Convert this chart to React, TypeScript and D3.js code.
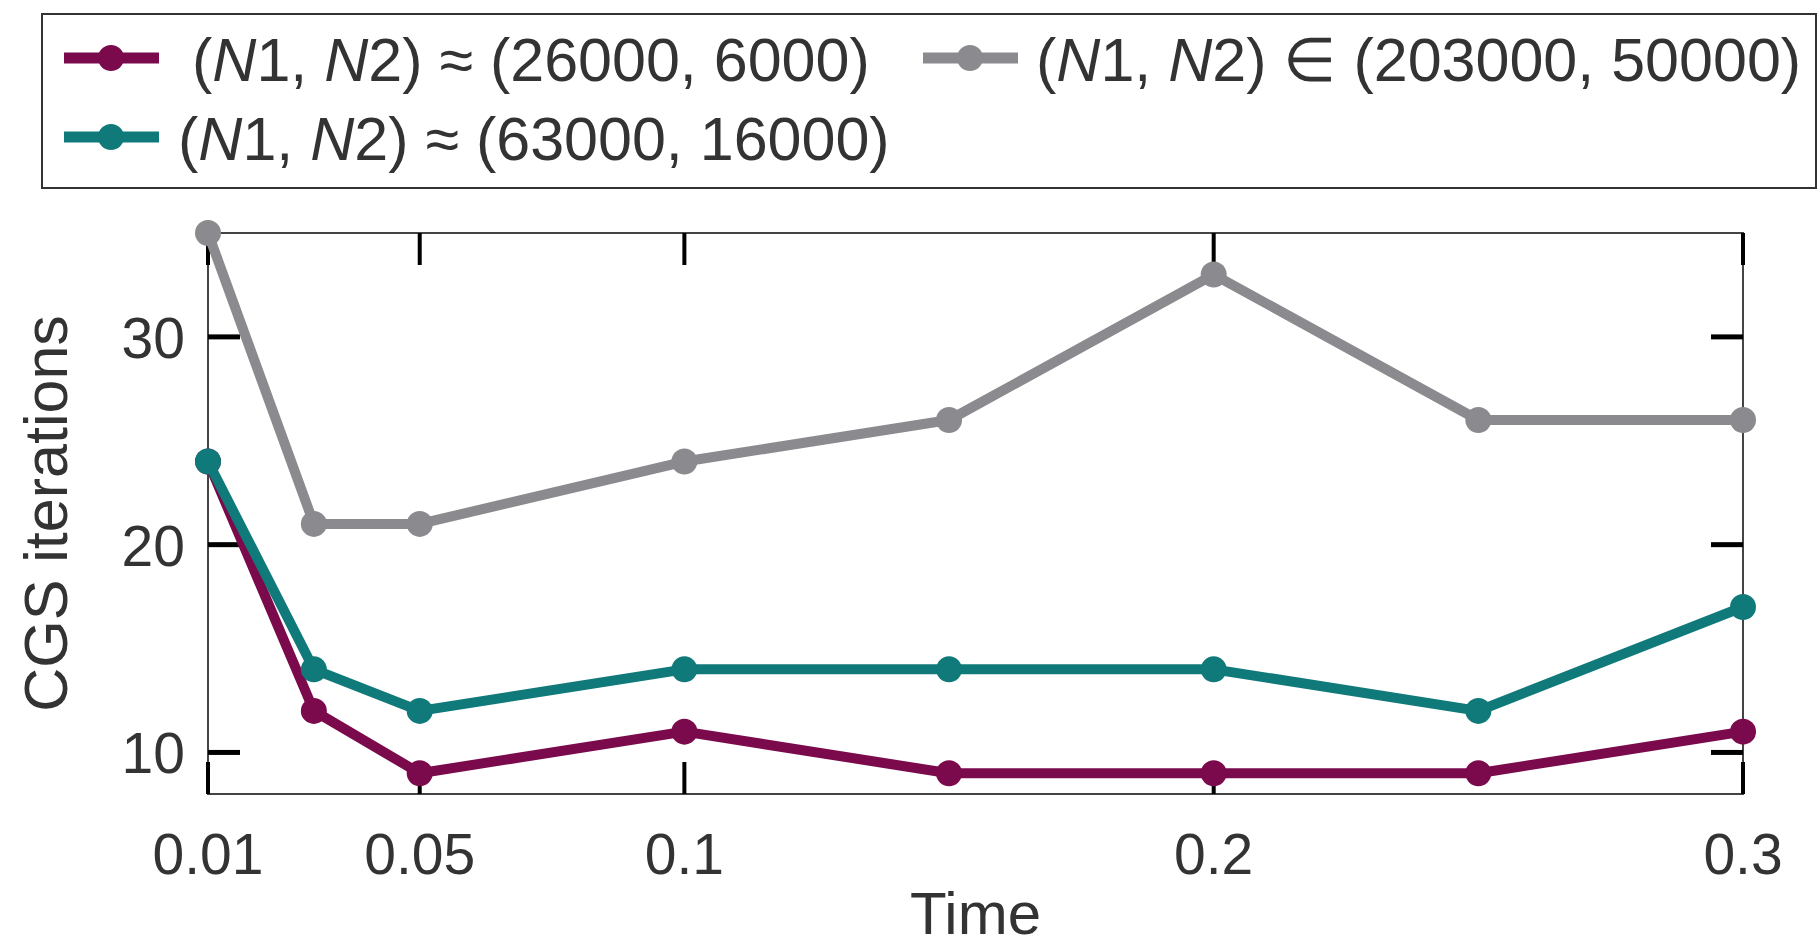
import React from 'react';
import * as d3 from 'd3';

// data
const times = [0.01, 0.03, 0.05, 0.1, 0.15, 0.2, 0.25, 0.3];
const itersSmall = [24, 12, 9, 11, 9, 9, 9, 11];
const itersMedium = [24, 14, 12, 14, 14, 14, 12, 17];
const itersLarge = [35, 21, 21, 24, 26, 33, 26, 26];
const xTicks = [0.01, 0.05, 0.1, 0.2, 0.3];
const yTicks = [10, 20, 30];

const MAROON = '#7b0a4c';
const TEAL = '#10797a';
const GRAY = '#8b8b8f';
const FONT = '"Liberation Sans", Arial, sans-serif';
const TEXT = '#333';

const W = 1820;
const H = 947;
const plot = { left: 208, right: 1743, top: 233, bottom: 794 };

const series = [
  { name: 'large', values: itersLarge, color: GRAY },
  { name: 'small', values: itersSmall, color: MAROON },
  { name: 'medium', values: itersMedium, color: TEAL },
];

// legend label: (N1, N2) op (a, b)
const LegendLabel = ({ x, y, op, a, b }: { x: number; y: number; op: string; a: string; b: string }) => (
  <text x={x} y={y} fontFamily={FONT} fontSize={61} fill={TEXT}>
    <tspan>(</tspan>
    <tspan fontStyle="italic">N</tspan>
    <tspan>1, </tspan>
    <tspan fontStyle="italic">N</tspan>
    <tspan>{`2) ${op} (${a}, ${b})`}</tspan>
  </text>
);

const LegendMark = ({ x, y, color }: { x: number; y: number; color: string }) => (
  <g>
    <line x1={x} x2={x + 95} y1={y} y2={y} stroke={color} strokeWidth={11} />
    <circle cx={x + 47} cy={y} r={13} fill={color} />
  </g>
);

export default function App() {
  const x = d3.scaleLinear().domain([0.01, 0.3]).range([plot.left, plot.right]);
  const y = d3.scaleLinear().domain([8, 35]).range([plot.bottom, plot.top]);

  const line = d3
    .line<number>()
    .x((_, i) => x(times[i]))
    .y((d) => y(d));

  const tickLen = 32;

  return (
    <svg width={W} height={H} style={{ position: 'absolute', left: 0, top: 0, background: '#fff' }}>
      {/* legend */}
      <rect x={42} y={14} width={1774} height={174} fill="#fff" stroke="#333" strokeWidth={2} />
      <LegendMark x={64} y={58} color={MAROON} />
      <LegendLabel x={192} y={81} op="≈" a="26000" b="6000" />
      <LegendMark x={923} y={58} color={GRAY} />
      <LegendLabel x={1036} y={81} op="∈" a="203000" b="50000" />
      <LegendMark x={64} y={137} color={TEAL} />
      <LegendLabel x={178} y={160} op="≈" a="63000" b="16000" />

      {/* frame */}
      <rect
        x={plot.left}
        y={plot.top}
        width={plot.right - plot.left}
        height={plot.bottom - plot.top}
        fill="none"
        stroke="#444"
        strokeWidth={2}
      />

      {/* ticks, inward on all four sides */}
      {xTicks.map((t) => (
        <g key={'xt' + t}>
          <line x1={x(t)} x2={x(t)} y1={plot.bottom} y2={plot.bottom - tickLen} stroke="#000" strokeWidth={4} />
          <line x1={x(t)} x2={x(t)} y1={plot.top} y2={plot.top + tickLen} stroke="#000" strokeWidth={4} />
          <text
            x={x(t)}
            y={874}
            textAnchor="middle"
            fontFamily={FONT}
            fontSize={57}
            fill={TEXT}
          >
            {t}
          </text>
        </g>
      ))}
      {yTicks.map((t) => (
        <g key={'yt' + t}>
          <line x1={plot.left} x2={plot.left + tickLen} y1={y(t)} y2={y(t)} stroke="#000" strokeWidth={5} />
          <line x1={plot.right} x2={plot.right - tickLen} y1={y(t)} y2={y(t)} stroke="#000" strokeWidth={5} />
          <text
            x={185}
            y={y(t) + 21}
            textAnchor="end"
            fontFamily={FONT}
            fontSize={57}
            fill={TEXT}
          >
            {t}
          </text>
        </g>
      ))}

      {/* axis labels */}
      <text x={(plot.left + plot.right) / 2} y={934} textAnchor="middle" fontFamily={FONT} fontSize={60} fill={TEXT}>
        Time
      </text>
      <text
        transform={`translate(67, ${(plot.top + plot.bottom) / 2}) rotate(-90)`}
        textAnchor="middle"
        fontFamily={FONT}
        fontSize={61}
        fill={TEXT}
      >
        CGS iterations
      </text>

      {/* series */}
      {series.map((s) => (
        <g key={s.name}>
          <path d={line(s.values) ?? ''} fill="none" stroke={s.color} strokeWidth={10} strokeLinejoin="round" />
          {s.values.map((v, i) => (
            <circle key={i} cx={x(times[i])} cy={y(v)} r={13} fill={s.color} />
          ))}
        </g>
      ))}
    </svg>
  );
}
